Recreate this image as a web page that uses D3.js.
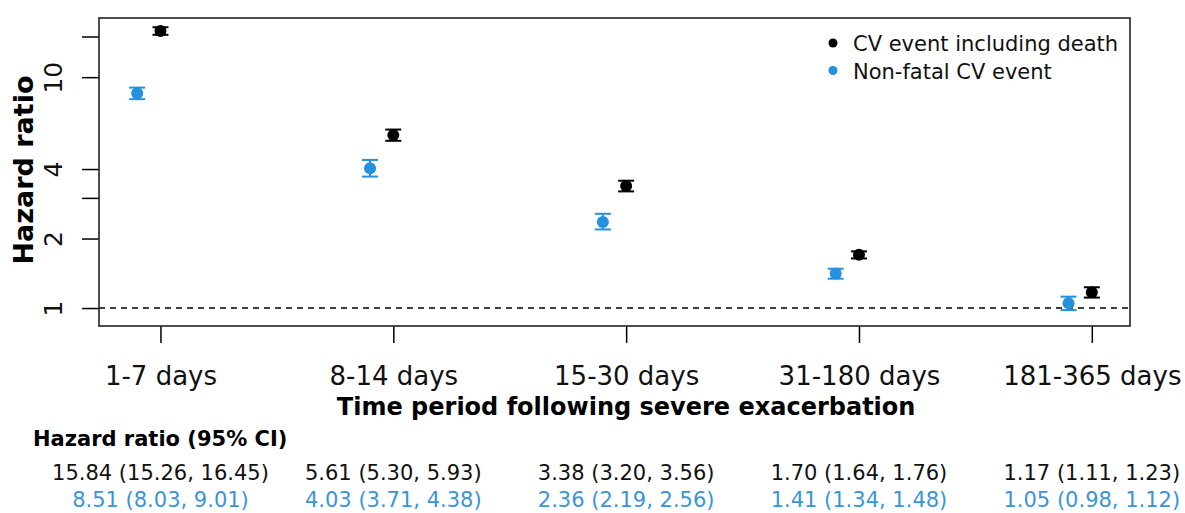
<!DOCTYPE html>
<html>
<head>
<meta charset="utf-8">
<script src="https://cdn.jsdelivr.net/npm/d3@7"></script>
<style>
  html, body { margin: 0; padding: 0; background: #fff; }
  svg { display: block; font-family: "DejaVu Sans", sans-serif; }
</style>
</head>
<body>
<svg id="chart" width="1185" height="513"></svg>
<script>
// Time windows after a severe exacerbation
const periods = ["1-7 days", "8-14 days", "15-30 days", "31-180 days", "181-365 days"];

// CV event including death: hazard ratio with 95% CI
const deathHR = [15.84, 5.61, 3.38, 1.70, 1.17];
const deathLo = [15.26, 5.30, 3.20, 1.64, 1.11];
const deathHi = [16.45, 5.93, 3.56, 1.76, 1.23];

// Non-fatal CV event: hazard ratio with 95% CI
const nonfatalHR = [8.51, 4.03, 2.36, 1.41, 1.05];
const nonfatalLo = [8.03, 3.71, 2.19, 1.34, 0.98];
const nonfatalHi = [9.01, 4.38, 2.56, 1.48, 1.12];

// Axis ticks
const yTicks = [1, 2, 3, 4, 10, 15];
const yTickLabels = [1, 2, 4, 10];

const seriesNames = ["CV event including death", "Non-fatal CV event"];
const BLACK = "#000000";
const BLUE = "#2390e0";
const BLUE_TEXT = "#3a95d8";
const FONT = "DejaVu Sans, sans-serif";

const svg = d3.select("#chart");
const box = { left: 99, right: 1130, top: 18, bottom: 326 };

const x = d3.scaleLinear().domain([0.736, 5.164]).range([box.left, box.right]);
const y = d3.scaleLog().domain([0.836, 18.04]).range([box.bottom, box.top]);

// Reference line at HR = 1
svg.append("line")
  .attr("x1", box.left).attr("x2", box.right)
  .attr("y1", y(1)).attr("y2", y(1))
  .attr("stroke", "#000").attr("stroke-width", 1.5)
  .attr("stroke-dasharray", "6,5");

// Y axis
const yAxis = d3.axisLeft(y).tickValues(yTicks).tickSize(17)
  .tickFormat(d => yTickLabels.includes(d) ? String(d) : "");
const gy = svg.append("g").attr("transform", `translate(${box.left},0)`).call(yAxis)
  .attr("font-family", FONT);
gy.select(".domain").remove();
gy.selectAll(".tick line").attr("stroke", "#000").attr("stroke-width", 1.5);
gy.selectAll(".tick text")
  .attr("font-size", 25).attr("fill", "#111")
  .attr("text-anchor", "middle")
  .attr("x", 0).attr("dy", 0)
  .attr("transform", "translate(-37,0) rotate(-90)");

// X axis
const xAxis = d3.axisBottom(x).tickValues([1, 2, 3, 4, 5]).tickSize(17)
  .tickFormat(d => periods[d - 1]);
const gx = svg.append("g").attr("transform", `translate(0,${box.bottom})`).call(xAxis)
  .attr("font-family", FONT);
gx.select(".domain").remove();
gx.selectAll(".tick line").attr("stroke", "#000").attr("stroke-width", 1.5);
gx.selectAll(".tick text")
  .attr("font-size", 26).attr("fill", "#111")
  .attr("y", 59).attr("dy", 0);

// Plot frame
svg.append("rect")
  .attr("x", box.left).attr("y", box.top)
  .attr("width", box.right - box.left).attr("height", box.bottom - box.top)
  .attr("fill", "none").attr("stroke", "#222").attr("stroke-width", 1.6);

// Axis titles
svg.append("text")
  .attr("x", x(3)).attr("y", 415)
  .attr("text-anchor", "middle").attr("font-size", 24).attr("font-weight", "bold")
  .attr("fill", "#000")
  .text("Time period following severe exacerbation");

svg.append("text")
  .attr("transform", `translate(33,170) rotate(-90)`)
  .attr("text-anchor", "middle").attr("font-size", 27).attr("font-weight", "bold")
  .attr("fill", "#000")
  .text("Hazard ratio");

// Points with confidence intervals
const series = [
  { hr: nonfatalHR, lo: nonfatalLo, hi: nonfatalHi, offset: -0.1, color: BLUE },
  { hr: deathHR, lo: deathLo, hi: deathHi, offset: 0, color: BLACK }
];
const capHalf = 8;
series.forEach(s => {
  const rows = periods.map((p, i) => ({ i, hr: s.hr[i], lo: s.lo[i], hi: s.hi[i] }));
  const g = svg.append("g");
  const cx = d => x(d.i + 1 + s.offset);
  g.selectAll("line.ci").data(rows).join("line")
    .attr("x1", cx).attr("x2", cx)
    .attr("y1", d => y(d.lo)).attr("y2", d => y(d.hi))
    .attr("stroke", s.color).attr("stroke-width", 2);
  g.selectAll("line.lo").data(rows).join("line")
    .attr("x1", d => cx(d) - capHalf).attr("x2", d => cx(d) + capHalf)
    .attr("y1", d => y(d.lo)).attr("y2", d => y(d.lo))
    .attr("stroke", s.color).attr("stroke-width", 2);
  g.selectAll("line.hi").data(rows).join("line")
    .attr("x1", d => cx(d) - capHalf).attr("x2", d => cx(d) + capHalf)
    .attr("y1", d => y(d.hi)).attr("y2", d => y(d.hi))
    .attr("stroke", s.color).attr("stroke-width", 2);
  g.selectAll("circle").data(rows).join("circle")
    .attr("cx", cx).attr("cy", d => y(d.hr)).attr("r", 6)
    .attr("fill", s.color);
});

// Legend
const legend = svg.append("g");
[BLACK, BLUE].forEach((c, k) => {
  const ly = 43 + k * 27.5;
  legend.append("circle").attr("cx", 833).attr("cy", ly).attr("r", 4.5).attr("fill", c);
  legend.append("text").attr("x", 853).attr("y", ly + 8)
    .attr("font-size", 21).attr("fill", "#111").text(seriesNames[k]);
});

// Table of estimates below the axis
svg.append("text")
  .attr("x", 33).attr("y", 446)
  .attr("font-size", 21).attr("font-weight", "bold").attr("fill", "#000")
  .text("Hazard ratio (95% CI)");

const fmt = d3.format(".2f");
const tableRows = [
  { hr: deathHR, lo: deathLo, hi: deathHi, color: "#111", yPos: 480 },
  { hr: nonfatalHR, lo: nonfatalLo, hi: nonfatalHi, color: BLUE_TEXT, yPos: 507 }
];
tableRows.forEach(r => {
  svg.append("g").selectAll("text").data(periods.map((p, i) => i)).join("text")
    .attr("x", i => x(i + 1)).attr("y", r.yPos)
    .attr("text-anchor", "middle").attr("font-size", 21).attr("fill", r.color)
    .text(i => `${fmt(r.hr[i])} (${fmt(r.lo[i])}, ${fmt(r.hi[i])})`);
});
</script>
</body>
</html>
